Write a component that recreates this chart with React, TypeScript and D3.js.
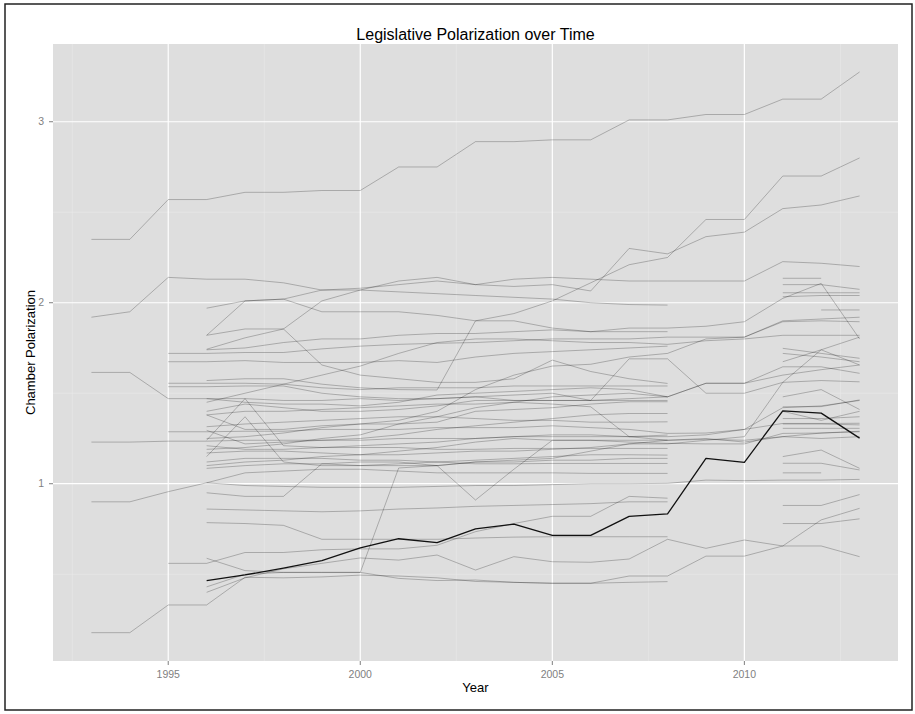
import React from "react";
import * as d3 from "d3";

// ---- data ----
const title = "Legislative Polarization over Time";
const xLabel = "Year";
const yLabel = "Chamber Polarization";
const xTicks = [1995, 2000, 2005, 2010];
const yTicks = [1, 2, 3];
const xMinorTicks = [1992.5, 1997.5, 2002.5, 2007.5, 2012.5];
const yMinorTicks = [0.5, 1.5, 2.5];

// highlighted chamber (black line), 1996-2013
const highlightStart = 1996;
const highlightValues = [0.464, 0.496, 0.534, 0.575, 0.646, 0.696, 0.674, 0.75, 0.777, 0.715, 0.715, 0.82, 0.833, 1.14, 1.118, 1.403, 1.39, 1.252];

// other chambers: start year + consecutive yearly values
const longSeries = [
  { s: 1993, v: [2.35, 2.35, 2.57, 2.57, 2.61, 2.61, 2.62, 2.62, 2.75, 2.75, 2.89, 2.89, 2.9, 2.9, 3.01, 3.01, 3.04, 3.04, 3.125, 3.125, 3.275] },
  { s: 1993, v: [1.92, 1.95, 2.14, 2.13, 2.13, 2.11, 2.07, 2.07, 2.12, 2.14, 2.1, 2.13, 2.14, 2.13, 2.12, 2.12, 2.12, 2.12, 2.227, 2.218, 2.2] },
  { s: 1993, v: [1.615, 1.615, 1.47, 1.47, 1.47, 1.46, 1.46, 1.47, 1.46, 1.47, 1.48, 1.49, 1.5, 1.46, 1.47, 1.48, 1.555, 1.555, 1.646, 1.646, 1.61] },
  { s: 1993, v: [1.23, 1.23, 1.235, 1.235, 1.24, 1.24, 1.24, 1.24, 1.25, 1.25, 1.25, 1.26, 1.26, 1.26, 1.26, 1.24, 1.245, 1.24, 1.26, 1.25, 1.26] },
  { s: 1993, v: [0.9, 0.9, 0.956, 1.005, 0.99, 0.985, 0.98, 0.98, 0.98, 0.985, 0.99, 0.99, 0.995, 1.0, 1.0, 1.002, 1.02, 1.017, 1.02, 1.02, 1.024] },
  { s: 1993, v: [0.177, 0.177, 0.33, 0.33, 0.483, 0.48, 0.485, 0.495, 0.49, 0.48, 0.46, 0.455, 0.45, 0.45, 0.455, 0.459] },
];

const from1995Series = [
  { s: 1995, v: [0.56, 0.56, 0.62, 0.62, 0.635, 0.64, 0.64, 0.66, 0.735, 0.78, 0.82, 0.82, 0.93, 0.92] },
  { s: 1995, v: [1.72, 1.72, 1.725, 1.725, 1.745, 1.76, 1.77, 1.776, 1.78, 1.79, 1.8, 1.8, 1.8, 1.81, 1.81, 1.81, 1.9, 1.91, 1.92] },
  { s: 1995, v: [1.674, 1.674, 1.68, 1.67, 1.67, 1.67, 1.68, 1.67, 1.7, 1.72, 1.73, 1.74, 1.75, 1.76] },
  { s: 1995, v: [1.555, 1.555, 1.555, 1.55, 1.53, 1.52, 1.53, 1.53, 1.53, 1.54, 1.54, 1.54, 1.54, 1.54] },
  { s: 1995, v: [1.536, 1.536, 1.54, 1.54, 1.5, 1.48, 1.47, 1.47, 1.48, 1.46, 1.46, 1.46, 1.46, 1.46] },
  { s: 1995, v: [1.287, 1.287, 1.29, 1.29, 1.3, 1.3, 1.3, 1.31, 1.31, 1.31, 1.32, 1.31, 1.3, 1.278, 1.28, 1.3, 1.333, 1.333, 1.334] },
];

const from1996Series = [
  { s: 1996, v: [1.97, 2.01, 2.02, 2.07, 2.08, 2.1, 2.12, 2.1, 2.09, 2.1, 2.065, 2.3, 2.27, 2.365, 2.39, 2.52, 2.54, 2.59] },
  { s: 1996, v: [1.82, 2.01, 2.02, 1.95, 1.95, 1.95, 1.93, 1.9, 1.9, 1.86, 1.84, 1.86, 1.86, 1.87, 1.895, 2.024, 2.107, 1.8] },
  { s: 1996, v: [1.82, 1.855, 1.855, 1.656, 1.6, 1.58, 1.56, 1.56, 1.58, 1.683, 1.62, 1.58, 1.554] },
  { s: 1996, v: [1.743, 1.806, 1.855, 2.01, 2.07, 2.06, 2.05, 2.04, 2.03, 2.02, 2.0, 1.99, 1.987] },
  { s: 1996, v: [1.57, 1.58, 1.58, 1.55, 1.53, 1.52, 1.518, 1.9, 1.94, 2.01, 2.11, 2.21, 2.25, 2.46, 2.46, 2.7, 2.7, 2.8] },
  { s: 1996, v: [1.24, 1.47, 1.21, 1.2, 1.21, 1.22, 1.23, 1.25, 1.26, 1.27, 1.27, 1.26, 1.269] },
  { s: 1996, v: [1.15, 1.37, 1.12, 1.1, 1.1, 1.11, 1.12, 1.13, 1.14, 1.15, 1.16, 1.16, 1.158] },
  { s: 1996, v: [1.4, 1.44, 1.42, 1.4, 1.4, 1.41, 1.43, 1.46, 1.46, 1.46, 1.46, 1.69, 1.69, 1.5, 1.5, 1.56, 1.57, 1.563] },
  { s: 1996, v: [1.38, 1.4, 1.4, 1.41, 1.42, 1.43, 1.44, 1.44, 1.45, 1.44, 1.425, 1.26, 1.26, 1.27, 1.3, 1.42, 1.43, 1.46] },
  { s: 1996, v: [1.315, 1.33, 1.34, 1.35, 1.36, 1.37, 1.37, 1.36, 1.35, 1.35, 1.34, 1.34, 1.342] },
  { s: 1996, v: [1.21, 1.19, 1.19, 1.2, 1.2, 1.2, 1.19, 1.19, 1.195, 1.195, 1.195, 1.195, 1.195] },
  { s: 1996, v: [1.12, 1.14, 1.14, 1.14, 1.13, 1.13, 1.12, 1.11, 1.11, 1.112, 1.112, 1.112, 1.112] },
  { s: 1996, v: [1.085, 1.1, 1.11, 1.11, 1.1, 1.1, 1.1, 1.12, 1.13, 1.14, 1.18, 1.22, 1.24, 1.25, 1.23, 1.26, 1.28, 1.29] },
  { s: 1996, v: [0.86, 0.855, 0.85, 0.845, 0.85, 0.86, 0.866, 0.875, 0.88, 0.885, 0.89, 0.9, 0.9] },
  { s: 1996, v: [0.785, 0.78, 0.77, 0.693, 0.693, 0.693, 0.693, 0.7, 0.705, 0.707, 0.707, 0.707, 0.707] },
  { s: 1996, v: [0.588, 0.52, 0.51, 0.51, 0.51, 0.477, 0.465, 0.468, 0.455, 0.45, 0.45, 0.49, 0.49, 0.6, 0.6, 0.656, 0.8, 0.864] },
  { s: 1996, v: [0.4, 0.48, 0.53, 0.56, 0.59, 0.578, 0.606, 0.523, 0.597, 0.569, 0.566, 0.584, 0.693, 0.643, 0.689, 0.656, 0.656, 0.597] },
  { s: 1996, v: [0.43, 0.5, 0.51, 0.51, 0.51, 1.087, 1.1, 1.12, 1.12, 1.13, 1.13, 1.14, 1.14] },
  { s: 1996, v: [1.005, 1.06, 1.07, 1.08, 1.08, 1.07, 1.06, 1.06, 1.06, 1.06, 1.057, 1.057, 1.057] },
  { s: 1996, v: [1.17, 1.18, 1.18, 1.17, 1.16, 1.18, 1.2, 1.23, 1.25, 1.24, 1.24, 1.23, 1.223, 1.22, 1.22, 1.278, 1.28, 1.287] },
  { s: 1996, v: [1.295, 1.22, 1.23, 1.24, 1.25, 1.27, 1.3, 1.32, 1.34, 1.36, 1.38, 1.388, 1.388] },
  { s: 1996, v: [1.19, 1.2, 1.22, 1.25, 1.27, 1.33, 1.37, 1.42, 1.45, 1.48, 1.49, 1.5, 1.48, 1.555, 1.555, 1.6, 1.63, 1.656] },
  { s: 1996, v: [1.47, 1.45, 1.44, 1.44, 1.43, 1.45, 1.49, 1.5, 1.51, 1.52, 1.53, 1.52, 1.48] },
  { s: 1996, v: [1.25, 1.26, 1.28, 1.31, 1.33, 1.35, 1.4, 1.52, 1.6, 1.65, 1.66, 1.7, 1.72, 1.8, 1.81, 1.895, 1.9, 1.895] },
  { s: 1996, v: [1.38, 1.3, 1.3, 1.32, 1.33, 1.33, 1.34, 1.4, 1.41, 1.42, 1.44, 1.453, 1.453] },
  { s: 1996, v: [0.95, 0.93, 0.93, 1.11, 1.12, 1.12, 1.1, 0.91, 1.08, 1.24, 1.24, 1.24, 1.241] },
  { s: 1996, v: [1.74, 1.75, 1.78, 1.8, 1.8, 1.82, 1.83, 1.83, 1.84, 1.85, 1.84, 1.84, 1.84] },
  { s: 1996, v: [1.45, 1.5, 1.55, 1.6, 1.65, 1.72, 1.78, 1.8, 1.8, 1.79, 1.78, 1.78, 1.77, 1.79, 1.8, 1.82, 1.82, 1.82] },
  { s: 1996, v: [1.1, 1.12, 1.13, 1.15, 1.16, 1.16, 1.17, 1.18, 1.18, 1.19, 1.2, 1.22, 1.22, 1.24, 1.26, 1.56, 1.74, 1.656] },
];

const lateSeries = [
  { s: 2011, v: [2.135, 2.135] },
  { s: 2011, v: [2.1, 2.1, 2.074] },
  { s: 2011, v: [2.055, 2.055, 2.055] },
  { s: 2011, v: [2.033, 2.04, 2.04] },
  { s: 2012, v: [1.96, 1.96] },
  { s: 2011, v: [1.748, 1.72, 1.693] },
  { s: 2011, v: [1.72, 1.7, 1.674] },
  { s: 2011, v: [1.674, 1.74, 1.81] },
  { s: 2011, v: [1.425, 1.426, 1.463] },
  { s: 2011, v: [1.4, 1.35, 1.4] },
  { s: 2011, v: [1.36, 1.36, 1.37] },
  { s: 2011, v: [1.33, 1.33, 1.325] },
  { s: 2011, v: [1.306, 1.306, 1.306] },
  { s: 2011, v: [1.15, 1.186, 1.085] },
  { s: 2011, v: [1.113, 1.113, 1.076] },
  { s: 2011, v: [1.06, 1.06] },
  { s: 2011, v: [0.88, 0.88, 0.94] },
  { s: 2011, v: [0.78, 0.78, 0.806] },
  { s: 2011, v: [1.48, 1.52, 1.41] },
];

const allSeries = [...longSeries, ...from1995Series, ...from1996Series, ...lateSeries];

// ---- layout ----
const W = 915;
const H = 714;
const panel = { left: 53, top: 44, right: 898, bottom: 661 };
const font = "Liberation Sans, Arial, Helvetica, sans-serif";

export default function App() {
  const x = d3.scaleLinear().domain([1992, 2014]).range([panel.left, panel.right]);
  const y = d3.scaleLinear().domain([0.0205, 3.4295]).range([panel.bottom, panel.top]);

  const toPoints = (s: number, v: number[]) => v.map((val, i) => [s + i, val] as [number, number]);
  const line = d3
    .line<[number, number]>()
    .x((d) => x(d[0]))
    .y((d) => y(d[1]));

  const pw = panel.right - panel.left;
  const ph = panel.bottom - panel.top;
  const cx = (panel.left + panel.right) / 2;
  const cy = (panel.top + panel.bottom) / 2;

  return (
    <svg
      width={W}
      height={H}
      style={{ position: "absolute", left: 0, top: 0, background: "#fff" }}
      fontFamily={font}
    >
      <rect x={0} y={0} width={W} height={H} fill="#fff" />
      <rect x={5} y={4} width={907} height={706} fill="none" stroke="#222" strokeWidth={1.5} />

      {/* panel */}
      <rect x={panel.left} y={panel.top} width={pw} height={ph} fill="#dedede" />
      {xMinorTicks.map((t) => (
        <line key={"xm" + t} x1={x(t)} x2={x(t)} y1={panel.top} y2={panel.bottom} stroke="#e9e9e9" strokeWidth={0.6} />
      ))}
      {yMinorTicks.map((t) => (
        <line key={"ym" + t} x1={panel.left} x2={panel.right} y1={y(t)} y2={y(t)} stroke="#e9e9e9" strokeWidth={0.6} />
      ))}
      {xTicks.map((t) => (
        <line key={"xg" + t} x1={x(t)} x2={x(t)} y1={panel.top} y2={panel.bottom} stroke="#fff" strokeWidth={1.2} />
      ))}
      {yTicks.map((t) => (
        <line key={"yg" + t} x1={panel.left} x2={panel.right} y1={y(t)} y2={y(t)} stroke="#fff" strokeWidth={1.2} />
      ))}

      {/* grey lines */}
      <g fill="none" stroke="#000" strokeOpacity={0.27} strokeWidth={0.9} strokeLinejoin="round">
        {allSeries.map((sr, i) => (
          <path key={i} d={line(toPoints(sr.s, sr.v)) || ""} />
        ))}
      </g>
      {/* highlighted line */}
      <path
        d={line(toPoints(highlightStart, highlightValues)) || ""}
        fill="none"
        stroke="#111"
        strokeWidth={1.3}
        strokeLinejoin="round"
      />

      {/* axes ticks */}
      {xTicks.map((t) => (
        <g key={"xt" + t}>
          <line x1={x(t)} x2={x(t)} y1={panel.bottom} y2={panel.bottom + 4} stroke="#7f7f7f" strokeWidth={1} />
          <text x={x(t)} y={panel.bottom + 17} textAnchor="middle" fontSize={10.5} fill="#7f7f7f">
            {t}
          </text>
        </g>
      ))}
      {yTicks.map((t) => (
        <g key={"yt" + t}>
          <line x1={panel.left - 4} x2={panel.left} y1={y(t)} y2={y(t)} stroke="#7f7f7f" strokeWidth={1} />
          <text x={panel.left - 9} y={y(t)} dy="0.35em" textAnchor="end" fontSize={10.5} fill="#7f7f7f">
            {t}
          </text>
        </g>
      ))}

      {/* labels */}
      <text x={cx} y={40} textAnchor="middle" fontSize={16} fill="#000">
        {title}
      </text>
      <text x={cx} y={692} textAnchor="middle" fontSize={13} fill="#000">
        {xLabel}
      </text>
      <text transform={`translate(35,${cy}) rotate(-90)`} textAnchor="middle" fontSize={13} fill="#000">
        {yLabel}
      </text>
    </svg>
  );
}
